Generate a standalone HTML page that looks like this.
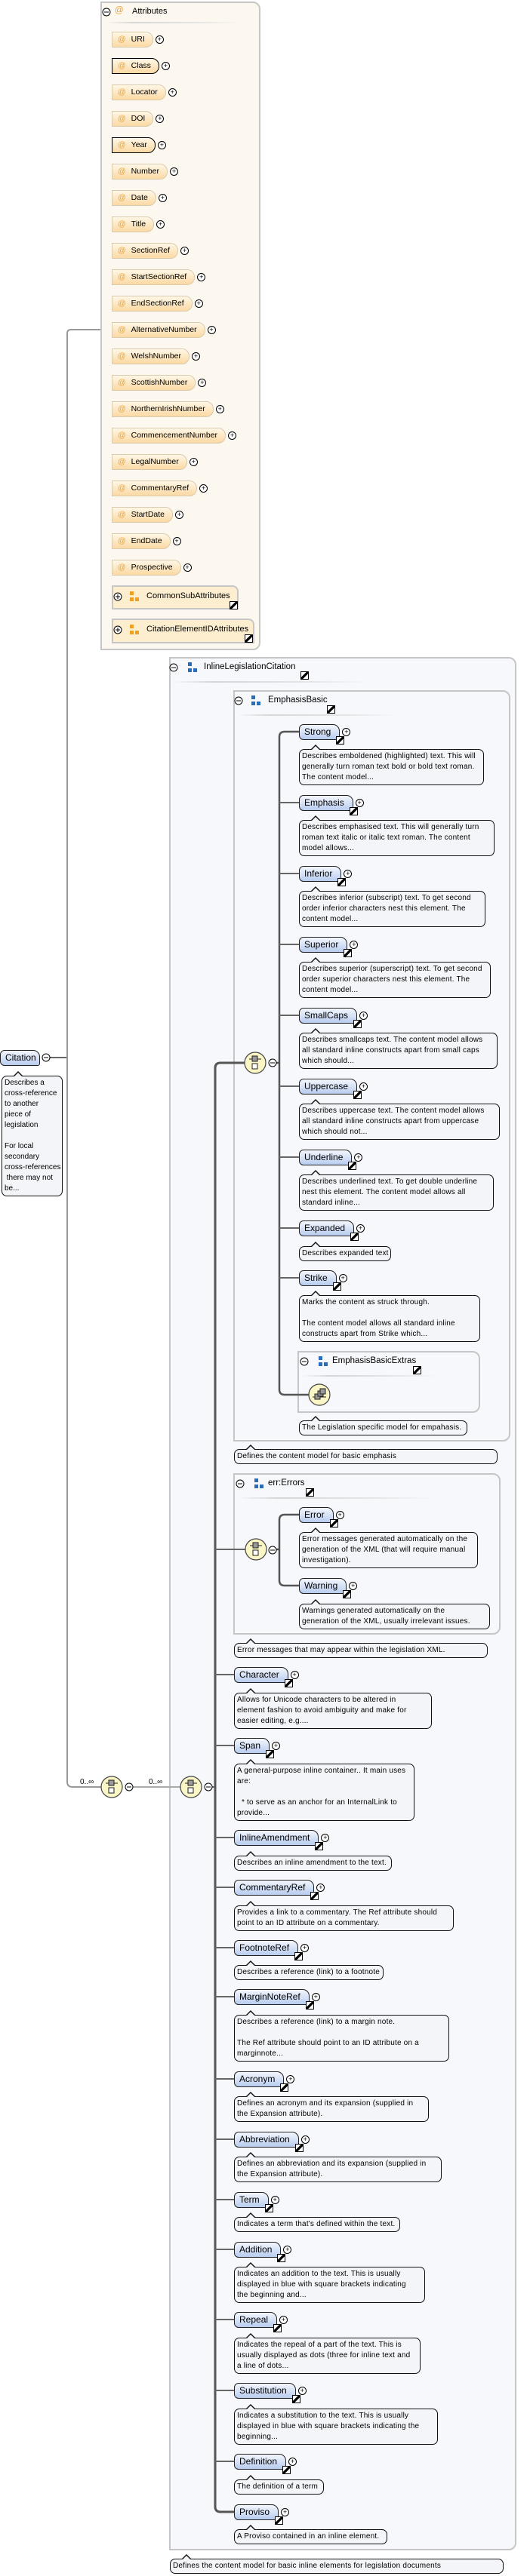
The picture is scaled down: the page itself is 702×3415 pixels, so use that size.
<!DOCTYPE html>
<html><head><meta charset="utf-8"><style>
body{margin:0;width:702px;height:3415px;position:relative;background:#fff;font-family:"Liberation Sans",sans-serif;overflow:hidden;color:#000}
.box{position:absolute;border:2px solid #c6c6c6;border-radius:0 10px 10px 0;box-sizing:border-box;z-index:0}
.hd{position:absolute;font-size:11.5px;white-space:nowrap;z-index:2}
.el{position:absolute;height:21px;box-sizing:border-box;border:1px solid #222;border-radius:6px 9px 3px 6px;background:linear-gradient(#f4f7fd,#b8ccef);font-size:12px;line-height:19px;padding:0 11px 0 6px;white-space:nowrap;z-index:2}
.el i,.ar{position:absolute;right:-7px;bottom:-7px;width:9px;height:9px;border:1px solid #000;background:#fff linear-gradient(135deg,transparent 38%,#000 38%,#000 62%,transparent 62%)}
.ar{right:auto;bottom:auto}
.el b,.at b,.pl{position:absolute;right:-15px;top:4px;width:9px;height:9px;border:1px solid #000;border-radius:50%;font-size:9px;line-height:9px;text-align:center;font-weight:normal;background:#fff}
.pl{right:auto}
.at{position:absolute;height:21px;box-sizing:border-box;border:1px solid #d9cbb0;border-radius:0 10px 10px 0;background:linear-gradient(#fff7e6,#fbd9a3);font-size:10.5px;line-height:19px;padding:0 10px 0 7px;white-space:nowrap;z-index:2}
.at.r{border-color:#000}
.at s{text-decoration:none;color:#e9a030;margin-right:7px}
.d{position:absolute;box-sizing:border-box;border:1px solid #111;border-radius:7px;background:#f4f5f8;font-size:10px;letter-spacing:.2px;line-height:14px;padding:2px 3px;white-space:nowrap;overflow:visible;z-index:2}
.d::before{content:"";position:absolute;left:14px;top:-7px;border:7px solid transparent;border-top:0;border-bottom-color:#111}
.d::after{content:"";position:absolute;left:15px;top:-5px;border:6px solid transparent;border-top:0;border-bottom-color:#f4f5f8}
svg{position:absolute;left:0;top:0;z-index:1}
.sep{position:absolute;height:2px;background:linear-gradient(90deg,#fff0,#d6d6d6 20%,#e6e6e6 70%,#fff0);z-index:1}
</style></head><body>

<div class="box" style="left:133px;top:2px;width:212px;height:860px;background:#fdf8ef"></div>
<div class="box" style="left:148px;top:776px;width:168px;height:32px;background:#fdeed0;border-radius:0 8px 0 0"></div>
<div class="box" style="left:148px;top:820px;width:189px;height:33px;background:#fdeed0;border-radius:0 8px 0 0"></div>
<div class="box" style="left:224px;top:871px;width:460px;height:2510px;background:#f7f8fc"></div>
<div class="box" style="left:309px;top:915px;width:367px;height:996px;background:#f7f8fc"></div>
<div class="box" style="left:394px;top:1791px;width:242px;height:82px;background:#f7f8fc"></div>
<div class="box" style="left:309px;top:1953px;width:354px;height:214px;background:#f7f8fc"></div>

<div class="sep" style="left:140px;top:29px;width:180px"></div>
<div class="sep" style="left:230px;top:903px;width:260px"></div>
<div class="sep" style="left:315px;top:947px;width:210px"></div>
<div class="sep" style="left:400px;top:1823px;width:180px"></div>
<div class="sep" style="left:315px;top:1985px;width:260px"></div>

<svg width="702" height="3415" viewBox="0 0 702 3415">
<g fill="none" stroke="#666" stroke-width="2">
<path d="M66 1402 H89"/>
<path d="M133 437 H94 Q89 437 89 442 V2362 Q89 2369 96 2369 H134" stroke="#999"/>
<path d="M176 2369 H239" stroke="#aaa"/>
<path d="M281 2369 H285"/>
<path d="M324 1409 H292 Q285 1409 285 1416 V3323 Q285 3330 292 3330 H310" stroke="#555" stroke-width="3"/>
<path d="M285 2054 H325 M285 2220 H310 M285 2314 H310 M285 2436 H310 M285 2502 H310 M285 2582 H310 M285 2647 H310 M285 2756 H310 M285 2836 H310 M285 2916 H310 M285 2982 H310 M285 3075 H310 M285 3169 H310 M285 3263 H310"/>
<path d="M366 1409 H370 M396 970 H377 Q370 970 370 977 V1842 Q370 1849 377 1849 H409" stroke="#555" stroke-width="2.5"/>
<path d="M370 1064 H396 M370 1158 H396 M370 1252 H396 M370 1346 H396 M370 1440 H396 M370 1534 H396 M370 1628 H396 M370 1694 H396"/>
<path d="M366 2054 H370 M396 2008 H377 Q370 2008 370 2015 V2095 Q370 2102 377 2102 H396" stroke="#555" stroke-width="2.5"/>
</g>
<g stroke="#444" stroke-width="1.2">
<circle cx="148" cy="2369" r="14" fill="#fbf6c6"/>
<circle cx="253" cy="2369" r="14" fill="#fbf6c6"/>
<circle cx="338" cy="1409" r="14" fill="#fbf6c6"/>
<circle cx="339" cy="2054" r="14" fill="#fbf6c6"/>
<circle cx="423" cy="1849" r="14" fill="#fbf6c6"/>
</g>
<g stroke="#222" stroke-width="1">
<g transform="translate(148 2369)"><path d="M-8 -5 H8"/><rect x="-4" y="-9" width="7" height="7" fill="#999"/><rect x="-4" y="1" width="7" height="7" fill="#fff"/></g>
<g transform="translate(253 2369)"><path d="M-8 -5 H8"/><rect x="-4" y="-9" width="7" height="7" fill="#999"/><rect x="-4" y="1" width="7" height="7" fill="#fff"/></g>
<g transform="translate(338 1409)"><path d="M-8 -5 H8"/><rect x="-4" y="-9" width="7" height="7" fill="#999"/><rect x="-4" y="1" width="7" height="7" fill="#fff"/></g>
<g transform="translate(339 2054)"><path d="M-8 -5 H8"/><rect x="-4" y="-9" width="7" height="7" fill="#999"/><rect x="-4" y="1" width="7" height="7" fill="#fff"/></g>
<g transform="translate(423 1849)"><path d="M-9 3 H9"/><rect x="-6" y="-1" width="7" height="7" fill="#999"/><rect x="-2" y="-5" width="7" height="7" fill="#999"/><rect x="1" y="-8" width="7" height="7" fill="#999"/></g>
</g>
<g fill="#fff" stroke="#000" stroke-width="1">
<circle cx="61" cy="1402" r="5"/><circle cx="171" cy="2369" r="5"/><circle cx="276" cy="2369" r="5"/>
<circle cx="361" cy="1409" r="5"/><circle cx="361" cy="2055" r="5"/>
<circle cx="141" cy="16" r="5"/><circle cx="230" cy="885" r="5"/><circle cx="316" cy="929" r="5"/><circle cx="318" cy="1967" r="5"/><circle cx="403" cy="1805" r="5"/>
<circle cx="156" cy="791" r="5"/><circle cx="156" cy="835" r="5"/>
</g>
<g stroke="#000" stroke-width="1">
<path d="M58 1402 H64 M168 2369 H174 M273 2369 H279 M358 1409 H364 M358 2055 H364 M138 16 H144 M227 885 H233 M313 929 H319 M315 1967 H321 M400 1805 H406 M153 791 H159 M156 788 V794 M153 835 H159 M156 832 V838"/>
</g>
<g fill="#2a6ebb">
<rect x="249" y="878" width="5" height="5"/><rect x="249" y="886" width="5" height="5"/><rect x="256" y="886" width="5" height="5"/>
<rect x="333" y="922" width="5" height="5"/><rect x="333" y="930" width="5" height="5"/><rect x="340" y="930" width="5" height="5"/>
<rect x="337" y="1960" width="5" height="5"/><rect x="337" y="1968" width="5" height="5"/><rect x="344" y="1968" width="5" height="5"/>
<rect x="422" y="1798" width="5" height="5"/><rect x="422" y="1806" width="5" height="5"/><rect x="429" y="1806" width="5" height="5"/>
</g>
<g fill="#f0a020">
<rect x="172" y="784" width="5" height="5"/><rect x="172" y="792" width="5" height="5"/><rect x="179" y="792" width="5" height="5"/>
<rect x="172" y="828" width="5" height="5"/><rect x="172" y="836" width="5" height="5"/><rect x="179" y="836" width="5" height="5"/>
</g>
<g font-family="Liberation Sans, sans-serif" font-size="10" fill="#000">
<text x="106" y="2365">0..∞</text><text x="197" y="2365">0..∞</text>
</g>
</svg>

<div class="hd" style="left:152px;top:8px;color:#e9a030">@</div>
<div class="hd" style="left:175px;top:9px;font-size:11px">Attributes</div>
<div class="hd" style="left:194px;top:784px;font-size:11px">CommonSubAttributes</div><div class="ar" style="left:304px;top:797px;z-index:2"></div>
<div class="hd" style="left:194px;top:828px;font-size:11px">CitationElementIDAttributes</div><div class="ar" style="left:324px;top:841px;z-index:2"></div>
<div class="hd" style="left:270px;top:878px">InlineLegislationCitation</div><div class="ar" style="left:398px;top:890px;z-index:2"></div>
<div class="hd" style="left:355px;top:922px">EmphasisBasic</div><div class="ar" style="left:433px;top:935px;z-index:2"></div>
<div class="hd" style="left:440px;top:1798px">EmphasisBasicExtras</div><div class="ar" style="left:547px;top:1811px;z-index:2"></div>
<div class="hd" style="left:355px;top:1960px">err:Errors</div><div class="ar" style="left:405px;top:1973px;z-index:2"></div>

<div class="at" style="left:148px;top:42px"><s>@</s>URI<b>+</b></div>
<div class="at r" style="left:148px;top:77px"><s>@</s>Class<b>+</b></div>
<div class="at" style="left:148px;top:112px"><s>@</s>Locator<b>+</b></div>
<div class="at" style="left:148px;top:147px"><s>@</s>DOI<b>+</b></div>
<div class="at r" style="left:148px;top:182px"><s>@</s>Year<b>+</b></div>
<div class="at" style="left:148px;top:217px"><s>@</s>Number<b>+</b></div>
<div class="at" style="left:148px;top:252px"><s>@</s>Date<b>+</b></div>
<div class="at" style="left:148px;top:287px"><s>@</s>Title<b>+</b></div>
<div class="at" style="left:148px;top:322px"><s>@</s>SectionRef<b>+</b></div>
<div class="at" style="left:148px;top:357px"><s>@</s>StartSectionRef<b>+</b></div>
<div class="at" style="left:148px;top:392px"><s>@</s>EndSectionRef<b>+</b></div>
<div class="at" style="left:148px;top:427px"><s>@</s>AlternativeNumber<b>+</b></div>
<div class="at" style="left:148px;top:462px"><s>@</s>WelshNumber<b>+</b></div>
<div class="at" style="left:148px;top:497px"><s>@</s>ScottishNumber<b>+</b></div>
<div class="at" style="left:148px;top:532px"><s>@</s>NorthernIrishNumber<b>+</b></div>
<div class="at" style="left:148px;top:567px"><s>@</s>CommencementNumber<b>+</b></div>
<div class="at" style="left:148px;top:602px"><s>@</s>LegalNumber<b>+</b></div>
<div class="at" style="left:148px;top:637px"><s>@</s>CommentaryRef<b>+</b></div>
<div class="at" style="left:148px;top:672px"><s>@</s>StartDate<b>+</b></div>
<div class="at" style="left:148px;top:707px"><s>@</s>EndDate<b>+</b></div>
<div class="at" style="left:148px;top:742px"><s>@</s>Prospective<b>+</b></div>

<div class="el" style="left:0;top:1392px;width:53px;padding-left:6px">Citation</div>
<div class="d" style="left:2px;top:1426px;width:81px;height:160px;letter-spacing:0">Describes a<br>cross-reference<br>to another<br>piece of<br>legislation<br><br>For local<br>secondary<br>cross-references<br>&nbsp;there may not<br>be...</div>

<div class="el" style="left:396px;top:960px">Strong<i></i><b>+</b></div>
<div class="d" style="left:396px;top:993px;width:245px;height:48px">Describes emboldened (highlighted) text. This will<br>generally turn roman text bold or bold text roman.<br>The content model...</div>
<div class="el" style="left:396px;top:1054px">Emphasis<i></i><b>+</b></div>
<div class="d" style="left:396px;top:1087px;width:259px;height:48px">Describes emphasised text. This will generally turn<br>roman text italic or italic text roman. The content<br>model allows...</div>
<div class="el" style="left:396px;top:1148px">Inferior<i></i><b>+</b></div>
<div class="d" style="left:396px;top:1181px;width:247px;height:48px">Describes inferior (subscript) text. To get second<br>order inferior characters nest this element. The<br>content model...</div>
<div class="el" style="left:396px;top:1242px">Superior<i></i><b>+</b></div>
<div class="d" style="left:396px;top:1275px;width:254px;height:48px">Describes superior (superscript) text. To get second<br>order superior characters nest this element. The<br>content model...</div>
<div class="el" style="left:396px;top:1336px">SmallCaps<i></i><b>+</b></div>
<div class="d" style="left:396px;top:1369px;width:263px;height:48px">Describes smallcaps text. The content model allows<br>all standard inline constructs apart from small caps<br>which should...</div>
<div class="el" style="left:396px;top:1430px">Uppercase<i></i><b>+</b></div>
<div class="d" style="left:396px;top:1463px;width:266px;height:48px">Describes uppercase text. The content model allows<br>all standard inline constructs apart from uppercase<br>which should not...</div>
<div class="el" style="left:396px;top:1524px">Underline<i></i><b>+</b></div>
<div class="d" style="left:396px;top:1557px;width:258px;height:48px">Describes underlined text. To get double underline<br>nest this element. The content model allows all<br>standard inline...</div>
<div class="el" style="left:396px;top:1618px">Expanded<i></i><b>+</b></div>
<div class="d" style="left:396px;top:1652px;width:122px;height:20px">Describes expanded text</div>
<div class="el" style="left:396px;top:1684px">Strike<i></i><b>+</b></div>
<div class="d" style="left:396px;top:1717px;width:240px;height:62px">Marks the content as struck through.<br><br>The content model allows all standard inline<br>constructs apart from Strike which...</div>
<div class="d" style="left:396px;top:1883px;width:223px;height:20px">The Legislation specific model for empahasis.</div>
<div class="d" style="left:310px;top:1921px;width:349px;height:20px">Defines the content model for basic emphasis</div>

<div class="el" style="left:396px;top:1998px">Error<i></i><b>+</b></div>
<div class="d" style="left:396px;top:2031px;width:237px;height:48px">Error messages generated automatically on the<br>generation of the XML (that will require manual<br>investigation).</div>
<div class="el" style="left:396px;top:2092px">Warning<i></i><b>+</b></div>
<div class="d" style="left:396px;top:2126px;width:253px;height:34px">Warnings generated automatically on the<br>generation of the XML, usually irrelevant issues.</div>
<div class="d" style="left:310px;top:2178px;width:336px;height:20px">Error messages that may appear within the legislation XML.</div>

<div class="el" style="left:310px;top:2210px">Character<i></i><b>+</b></div>
<div class="d" style="left:310px;top:2244px;width:262px;height:48px">Allows for Unicode characters to be altered in<br>element fashion to avoid ambiguity and make for<br>easier editing, e.g....</div>
<div class="el" style="left:310px;top:2304px">Span<i></i><b>+</b></div>
<div class="d" style="left:310px;top:2338px;width:239px;height:76px">A general-purpose inline container.. It main uses<br>are:<br><br>&nbsp;&nbsp;* to serve as an anchor for an InternalLink to<br>provide...</div>
<div class="el" style="left:310px;top:2426px">InlineAmendment<i></i><b>+</b></div>
<div class="d" style="left:310px;top:2460px;width:209px;height:20px">Describes an inline amendment to the text.</div>
<div class="el" style="left:310px;top:2492px">CommentaryRef<i></i><b>+</b></div>
<div class="d" style="left:310px;top:2526px;width:291px;height:34px">Provides a link to a commentary. The Ref attribute should<br>point to an ID attribute on a commentary.</div>
<div class="el" style="left:310px;top:2572px">FootnoteRef<i></i><b>+</b></div>
<div class="d" style="left:310px;top:2605px;width:198px;height:20px">Describes a reference (link) to a footnote</div>
<div class="el" style="left:310px;top:2637px">MarginNoteRef<i></i><b>+</b></div>
<div class="d" style="left:310px;top:2671px;width:285px;height:62px">Describes a reference (link) to a margin note.<br><br>The Ref attribute should point to an ID attribute on a<br>marginnote...</div>
<div class="el" style="left:310px;top:2746px">Acronym<i></i><b>+</b></div>
<div class="d" style="left:310px;top:2779px;width:258px;height:34px">Defines an acronym and its expansion (supplied in<br>the Expansion attribute).</div>
<div class="el" style="left:310px;top:2826px">Abbreviation<i></i><b>+</b></div>
<div class="d" style="left:310px;top:2859px;width:275px;height:34px">Defines an abbreviation and its expansion (supplied in<br>the Expansion attribute).</div>
<div class="el" style="left:310px;top:2906px">Term<i></i><b>+</b></div>
<div class="d" style="left:310px;top:2939px;width:220px;height:20px">Indicates a term that's defined within the text.</div>
<div class="el" style="left:310px;top:2972px">Addition<i></i><b>+</b></div>
<div class="d" style="left:310px;top:3005px;width:253px;height:48px">Indicates an addition to the text. This is usually<br>displayed in blue with square brackets indicating<br>the beginning and...</div>
<div class="el" style="left:310px;top:3065px">Repeal<i></i><b>+</b></div>
<div class="d" style="left:310px;top:3099px;width:247px;height:48px">Indicates the repeal of a part of the text. This is<br>usually displayed as dots (three for inline text and<br>a line of dots...</div>
<div class="el" style="left:310px;top:3159px">Substitution<i></i><b>+</b></div>
<div class="d" style="left:310px;top:3193px;width:270px;height:48px">Indicates a substitution to the text. This is usually<br>displayed in blue with square brackets indicating the<br>beginning...</div>
<div class="el" style="left:310px;top:3253px">Definition<i></i><b>+</b></div>
<div class="d" style="left:310px;top:3287px;width:119px;height:20px">The definition of a term</div>
<div class="el" style="left:310px;top:3320px">Proviso<i></i><b>+</b></div>
<div class="d" style="left:310px;top:3353px;width:203px;height:20px">A Proviso contained in an inline element.</div>
<div class="d" style="left:225px;top:3392px;width:442px;height:20px">Defines the content model for basic inline elements for legislation documents</div>

</body></html>
